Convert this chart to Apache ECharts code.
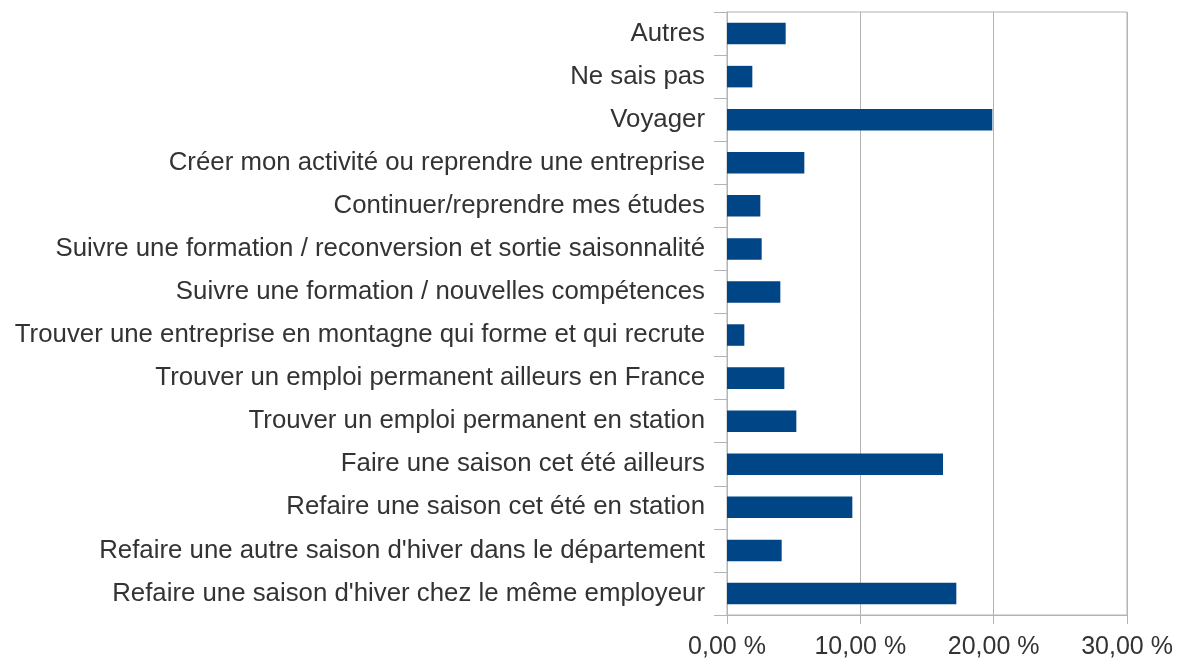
<!DOCTYPE html>
<html>
<head>
<meta charset="utf-8">
<script src="https://cdn.jsdelivr.net/npm/echarts@6/dist/echarts.min.js"></script>
<style>
  html, body { margin: 0; padding: 0; background: #fff; }
  #chart { width: 1177px; height: 660px; }
</style>
</head>
<body>
<div id="chart"></div>
<script>
// categories, top to bottom as shown
const categories = [
  'Autres',
  'Ne sais pas',
  'Voyager',
  'Créer mon activité ou reprendre une entreprise',
  'Continuer/reprendre mes études',
  'Suivre une formation / reconversion et sortie saisonnalité',
  'Suivre une formation / nouvelles compétences',
  'Trouver une entreprise en montagne qui forme et qui recrute',
  'Trouver un emploi permanent ailleurs en France',
  'Trouver un emploi permanent en station',
  'Faire une saison cet été ailleurs',
  'Refaire une saison cet été en station',
  "Refaire une autre saison d'hiver dans le département",
  "Refaire une saison d'hiver chez le même employeur"
];

// percentages
const shares = [4.4, 1.9, 19.9, 5.8, 2.5, 2.6, 4.0, 1.3, 4.3, 5.2, 16.2, 9.4, 4.1, 17.2];

const xTicks = { min: 0, max: 30, interval: 10 };

const font = 'Liberation Sans, Arial, sans-serif';
const gridGrey = '#b3b3b3';

const chart = echarts.init(document.getElementById('chart'));

chart.setOption({
  animation: false,
  grid: {
    left: 727,
    right: 50,
    top: 12,
    bottom: 45,
    show: true,
    borderColor: gridGrey,
    borderWidth: 1
  },
  xAxis: {
    type: 'value',
    min: xTicks.min,
    max: xTicks.max,
    interval: xTicks.interval,
    axisLine: { show: true, lineStyle: { color: gridGrey } },
    axisTick: { show: true, length: 9, lineStyle: { color: gridGrey } },
    splitLine: { show: true, lineStyle: { color: gridGrey } },
    axisLabel: {
      margin: 20,
      color: '#333',
      fontFamily: font,
      fontSize: 25,
      formatter: v => v.toFixed(2).replace('.', ',') + ' %'
    }
  },
  yAxis: {
    type: 'category',
    data: categories,
    inverse: true,
    axisLine: { show: true, lineStyle: { color: gridGrey } },
    axisTick: { show: true, length: 13, lineStyle: { color: gridGrey } },
    axisLabel: {
      margin: 22,
      color: '#333',
      fontFamily: font,
      fontSize: 25.8,
      interval: 0
    }
  },
  series: [{
    type: 'bar',
    data: shares,
    barWidth: '50%',
    itemStyle: { color: '#004586' }
  }]
});
</script>
</body>
</html>
